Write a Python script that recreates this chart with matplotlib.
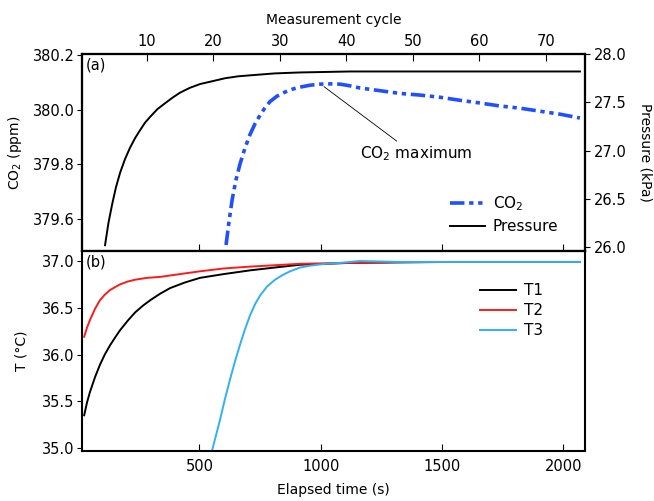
"""
CO2 / pressure (top) and temperatures (bottom) against elapsed time.
"""
import matplotlib
matplotlib.use("Agg")
import matplotlib.pyplot as plt

plt.rcParams["font.family"] = ["DejaVu Sans"]
plt.rcParams["mathtext.default"] = "regular"

# pressure (kPa), right axis of panel (a)
p_time = [111, 125, 140, 156, 173, 193, 214, 235, 255, 276, 297, 327, 358, 390, 420, 460,
          503, 555, 606, 660, 709, 810, 915, 1121, 1327, 2069]
p_kpa = [26.02, 26.25, 26.44, 26.62, 26.77, 26.91, 27.03, 27.13, 27.21, 27.29, 27.35, 27.43,
         27.49, 27.55, 27.60, 27.65, 27.69, 27.72, 27.75, 27.77, 27.78, 27.80, 27.81, 27.82,
         27.82, 27.82]

# CO2 (ppm), left axis of panel (a)
co2_time = [610, 622, 635, 650, 667, 688, 709, 730, 750, 770, 791, 820, 853, 885, 915, 955,
            997, 1040, 1080, 1120, 1162, 1245, 1327, 1409, 1492, 1574, 1657, 1739, 1822,
            1904, 1987, 2069]
co2_ppm = [379.505, 379.59, 379.67, 379.74, 379.80, 379.86, 379.91, 379.95, 379.98, 380.007,
           380.03, 380.05, 380.065, 380.076, 380.083, 380.09, 380.094, 380.095, 380.094,
           380.088, 380.08, 380.07, 380.06, 380.054, 380.046, 380.035, 380.025, 380.014,
           380.006, 379.995, 379.984, 379.97]
co2_peak = (1000, 380.094)

# temperatures (degC), panel (b)
t1_time = [25, 37, 49, 70, 90, 110, 132, 152, 173, 204, 235, 266, 297, 338, 379, 440, 503,
           600, 709, 810, 915, 1121, 1533, 2069]
t1_val = [35.35, 35.49, 35.60, 35.76, 35.89, 36.00, 36.10, 36.18, 36.26, 36.36, 36.45, 36.52,
          36.58, 36.65, 36.71, 36.77, 36.82, 36.86, 36.90, 36.93, 36.96, 36.98, 36.99, 36.99]
t2_time = [25, 37, 49, 70, 90, 110, 132, 152, 173, 204, 235, 285, 338, 420, 503, 600, 709,
           915, 1327, 2069]
t2_val = [36.19, 36.29, 36.37, 36.49, 36.58, 36.64, 36.69, 36.72, 36.75, 36.78, 36.80, 36.82,
          36.83, 36.86, 36.89, 36.92, 36.94, 36.97, 36.99, 36.99]
t3_time = [552, 568, 585, 605, 626, 646, 667, 688, 709, 730, 750, 780, 812, 843, 874, 915,
           956, 1020, 1080, 1162, 1327, 2069]
t3_val = [34.97, 35.13, 35.30, 35.52, 35.73, 35.92, 36.10, 36.27, 36.42, 36.54, 36.63, 36.73,
          36.80, 36.85, 36.89, 36.93, 36.95, 36.97, 36.98, 37.00, 36.99, 36.99]

time_ticks = [500, 1000, 1500, 2000]
cycle_ticks = [10, 20, 30, 40, 50, 60, 70]


def style_axis(ax):
    for sp in ax.spines.values():
        sp.set_linewidth(1.5)


def main():
    fig = plt.figure(figsize=(6.54, 5.01), dpi=100)
    ax1 = fig.add_axes([0.125, 0.499, 0.7695, 0.393])
    ax2 = fig.add_axes([0.125, 0.0998, 0.7695, 0.3992])

    # ---- panel (a)
    ax1.plot(co2_time, co2_ppm, color="#1f4fff", lw=2.6, dashes=(4, 1.3, 1.2, 1.3, 1.2, 1.3),
             label="CO$_2$")
    ax1.set_xlim(15, 2090)
    ax1.set_ylim(379.483, 380.204)
    ax1.set_yticks([379.6, 379.8, 380.0, 380.2])
    ax1.set_xticks(time_ticks)
    ax1.tick_params(axis="x", direction="in", length=5, labelbottom=False)
    ax1.tick_params(axis="y", direction="out", length=3.5, pad=1.5, labelsize=10.5)
    ax1.set_ylabel("CO$_2$ (ppm)", fontsize=10)
    ax1.yaxis.set_label_coords(-0.115, 0.5)

    axp = ax1.twinx()
    axp.plot(p_time, p_kpa, color="black", lw=1.4, label="Pressure")
    axp.set_ylim(25.96, 28.0)
    axp.set_yticks([26.0, 26.5, 27.0, 27.5, 28.0])
    axp.tick_params(axis="y", direction="out", length=3.5, pad=3, labelsize=10.5)
    axp.set_ylabel("Pressure (kPa)", fontsize=10, rotation=-90, ha="center", va="center")
    axp.yaxis.set_label_coords(1.12, 0.5)

    axc = ax1.twiny()
    axc.set_xlim(0.23, 75.9)
    axc.set_xticks(cycle_ticks)
    axc.tick_params(axis="x", direction="in", length=5, pad=4, labelsize=10.5)
    axc.set_xlabel("Measurement cycle", fontsize=10, labelpad=7)

    ax1.annotate("CO$_2$ maximum", xy=co2_peak, xytext=(1162, 379.838), fontsize=11,
                 ha="left", va="center",
                 arrowprops=dict(arrowstyle="-", lw=0.6, color="black",
                                 relpos=(0.37, 1.0), shrinkA=1, shrinkB=3))
    ax1.text(0.007, 0.985, "(a)", transform=ax1.transAxes, fontsize=10.5, va="top", ha="left")

    h1, l1 = ax1.get_legend_handles_labels()
    h2, l2 = axp.get_legend_handles_labels()
    ax1.legend(h1 + h2, l1 + l2, loc="upper left", bbox_to_anchor=(0.732, 0.29), frameon=False,
               fontsize=11, handlelength=2.3, handletextpad=0.5, labelspacing=0.45, borderpad=0,
               borderaxespad=0)

    for a in (ax1, axp, axc):
        style_axis(a)

    # ---- panel (b)
    ax2.plot(t1_time, t1_val, color="black", lw=1.4, label="T1")
    ax2.plot(t2_time, t2_val, color="#ff1a1a", lw=1.4, label="T2")
    ax2.plot(t3_time, t3_val, color="#30b0f5", lw=1.4, label="T3")
    ax2.set_xlim(15, 2090)
    ax2.set_ylim(34.968, 37.107)
    ax2.set_xticks(time_ticks)
    ax2.set_yticks([35.0, 35.5, 36.0, 36.5, 37.0])
    ax2.tick_params(axis="x", direction="in", length=5, pad=6, labelsize=10.5)
    ax2.tick_params(axis="y", direction="out", length=3.5, pad=1.5, labelsize=10.5)
    ax2.set_xlabel("Elapsed time (s)", fontsize=10, labelpad=6)
    ax2.set_ylabel("T (\u00b0C)", fontsize=10)
    ax2.yaxis.set_label_coords(-0.105, 0.5)
    ax2.text(0.007, 0.985, "(b)", transform=ax2.transAxes, fontsize=10.5, va="top", ha="left")
    ax2.legend(loc="upper left", bbox_to_anchor=(0.791, 0.84), frameon=False, fontsize=11,
               handlelength=2.4, handletextpad=0.5, labelspacing=0.33, borderpad=0,
               borderaxespad=0)
    style_axis(ax2)

    fig.savefig("out.png", dpi=100)
    plt.close(fig)


if __name__ == "__main__":
    main()
